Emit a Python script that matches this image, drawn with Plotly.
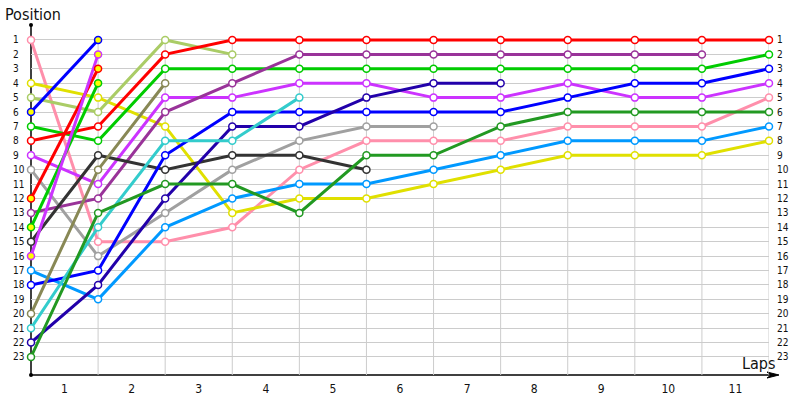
import plotly.graph_objects as go

laps = [0, 1, 2, 3, 4, 5, 6, 7, 8, 9, 10, 11]
lap_labels = ["1", "2", "3", "4", "5", "6", "7", "8", "9", "10", "11"]
positions = list(range(1, 24))

pink = [1, 15, 15, 14, 10, 8, 8, 8, 7, 7, 7, 5]
yellow = [4, 5, 7, 13, 12, 12, 11, 10, 9, 9, 9, 8]
light_olive = [5, 6, 1, 2]
blue_short = [6, 1]
green = [7, 8, 3, 3, 3, 3, 3, 3, 3, 3, 3, 2]
red = [8, 7, 2, 1, 1, 1, 1, 1, 1, 1, 1, 1]
violet = [9, 11, 5, 5, 4, 4, 5, 5, 4, 5, 5, 4]
gray = [10, 16, 13, 10, 8, 7, 7]
red_short = [12, 3]
purple = [13, 12, 6, 4, 2, 2, 2, 2, 2, 2, 2]
green_short = [14, 4]
black = [15, 9, 10, 9, 9, 10]
violet_short = [16, 2]
light_blue = [17, 19, 14, 12, 11, 11, 10, 9, 8, 8, 8, 7]
blue = [18, 17, 9, 6, 6, 6, 6, 6, 5, 4, 4, 3]
dark_blue = [22, 18, 12, 7, 7, 5, 4, 4]
olive = [20, 10, 4]
turquoise = [21, 14, 8, 8, 5]
forest_green = [23, 13, 11, 11, 13, 9, 9, 7, 6, 6, 6, 6]

series = [
    ("pink", pink, "#ff8fab", "white"),
    ("yellow", yellow, "#e0e000", "white"),
    ("light olive", light_olive, "#aacc66", "white"),
    ("blue short", blue_short, "#0000ff", "#ffff00"),
    ("green", green, "#00cc00", "white"),
    ("red", red, "#ff0000", "white"),
    ("violet", violet, "#cc33ff", "white"),
    ("gray", gray, "#a0a0a0", "white"),
    ("red short", red_short, "#ff0000", "#ffff00"),
    ("purple", purple, "#993399", "white"),
    ("green short", green_short, "#00cc00", "#ffff00"),
    ("black", black, "#333333", "white"),
    ("violet short", violet_short, "#cc33ff", "#ffff00"),
    ("light blue", light_blue, "#0099ff", "white"),
    ("blue", blue, "#0000ff", "white"),
    ("dark blue", dark_blue, "#2200aa", "white"),
    ("olive", olive, "#888855", "white"),
    ("turquoise", turquoise, "#33cccc", "white"),
    ("forest green", forest_green, "#229922", "white"),
]

FONT = "DejaVu Sans Condensed, DejaVu Sans, sans-serif"
W, H = 800, 400
PLOT_L, PLOT_T, PW, PH = 31, 25, 738, 350
L, T = PLOT_L, PLOT_T
R, B = W - L - PW, H - T - PH


def px(x):
    return (x - PLOT_L) / PW


def py(y):
    return (PLOT_T + PH - y) / PH


fig = go.Figure()
for name, vals, col, fill in series:
    fig.add_trace(go.Scatter(x=laps[:len(vals)], y=vals, mode="lines", name=name,
                             line=dict(color=col, width=3), cliponaxis=False,
                             showlegend=False, hoverinfo="skip"))
for name, vals, col, fill in series:
    fig.add_trace(go.Scatter(x=laps[:len(vals)], y=vals, mode="markers", name=name,
                             marker=dict(size=7, color=fill, line=dict(color=col, width=1.5)),
                             cliponaxis=False, showlegend=False))

shapes = []
for x in laps[1:]:
    shapes.append(dict(type="line", xref="x", yref="y", x0=x, x1=x, y0=24.25, y1=0.77,
                       line=dict(color="#cccccc", width=1), layer="between"))
# axes
shapes.append(dict(type="line", xref="paper", yref="paper", x0=0, x1=0, y0=0, y1=1,
                   line=dict(color="black", width=1.5), layer="between"))
shapes.append(dict(type="line", xref="paper", yref="paper", x0=0, x1=px(776), y0=0, y1=0,
                   line=dict(color="black", width=1.5), layer="between"))
shapes.append(dict(type="circle", xref="paper", yref="paper", xsizemode="pixel", ysizemode="pixel",
                   xanchor=0, yanchor=1, x0=-2, x1=2, y0=-2, y1=2,
                   fillcolor="black", line=dict(width=0), layer="between"))
shapes.append(dict(type="circle", xref="paper", yref="paper", xsizemode="pixel", ysizemode="pixel",
                   xanchor=0, yanchor=0, x0=-2, x1=2, y0=-2, y1=2,
                   fillcolor="black", line=dict(width=0), layer="between"))
shapes.append(dict(type="path", xref="paper", yref="paper", xsizemode="pixel", ysizemode="pixel",
                   xanchor=px(779), yanchor=0, path="M 0,0 L -12,3 L -8,0 L -12,-3 Z",
                   fillcolor="black", line=dict(color="black", width=1), layer="between"))

ann = []
for p in positions:
    ann.append(dict(text=str(p), xref="paper", yref="y", x=px(11), y=p, xanchor="left",
                    yanchor="middle", showarrow=False, font=dict(family=FONT, size=10, color="#111")))
    ann.append(dict(text=str(p), xref="paper", yref="y", x=px(775), y=p, xanchor="left",
                    yanchor="middle", showarrow=False, font=dict(family=FONT, size=10, color="#111")))
ann.append(dict(text="Position", xref="paper", yref="paper", x=px(3), y=py(3), xanchor="left",
                yanchor="top", showarrow=False, font=dict(family=FONT, size=16, color="#111")))
ann.append(dict(text="Laps", xref="paper", yref="paper", x=px(777), y=py(375), xanchor="right",
                yanchor="bottom", showarrow=False, font=dict(family=FONT, size=16, color="#111")))

fig.update_layout(
    width=W, height=H, margin=dict(l=L, r=R, t=T, b=B, autoexpand=False),
    plot_bgcolor="white", paper_bgcolor="white",
    xaxis=dict(range=[0, 11], tickvals=[x + 0.5 for x in laps[:-1]], ticktext=lap_labels,
               showgrid=False, zeroline=False, showline=False, ticks="outside", ticklen=3,
               tickcolor="rgba(0,0,0,0)", automargin=False,
               tickfont=dict(family=FONT, size=12, color="#111")),
    yaxis=dict(range=[24.25, -0.04], tickvals=positions, showticklabels=False, automargin=False,
               showgrid=True, gridcolor="#cccccc", gridwidth=1, zeroline=False, showline=False),
    shapes=shapes, annotations=ann, showlegend=False,
)
fig.write_html("out.html", config={"displayModeBar": False},
               post_script="document.body.style.margin='0px';document.body.style.overflow='hidden';")
